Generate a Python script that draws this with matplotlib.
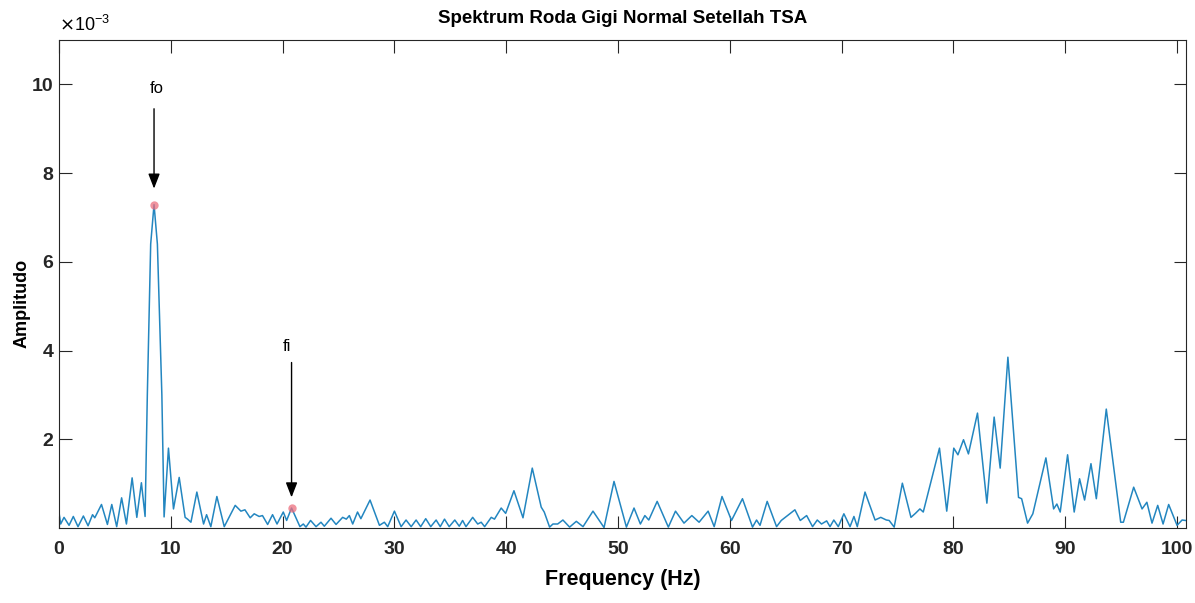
import matplotlib
matplotlib.use("Agg")
import matplotlib.pyplot as plt

# ---------- Data (amplitudes in units of 1e-3) ----------
freq_hz = [
    # 0 - 20 Hz
    0.0, 0.15, 0.45, 0.9, 1.28, 1.7, 2.18, 2.6, 3.0, 3.2, 3.8, 4.33, 4.72, 5.16,
    5.6, 6.03, 6.54, 6.96, 7.37, 7.7, 7.9, 8.2, 8.5, 8.8, 9.2, 9.4, 9.79, 10.24,
    10.75, 11.28, 11.5, 11.8, 12.33, 12.93, 13.2, 13.58, 14.12, 14.78, 15.76,
    16.27, 16.63, 17.1, 17.46, 17.9, 18.2, 18.66, 19.1, 19.5, 20.06, 20.36,
    # 20 - 40 Hz
    20.8, 21.55, 21.85, 22.09, 22.5, 22.99, 23.43, 23.73, 24.33, 24.78, 25.37,
    25.7, 25.97, 26.27, 26.7, 27.0, 27.82, 28.66, 29.1, 29.4, 30.0, 30.6, 31.04,
    31.5, 31.94, 32.35, 32.8, 33.25, 33.73, 34.1, 34.48, 34.9, 35.4, 35.8, 36.1,
    36.4, 37.0, 37.45, 37.76, 38.07, 38.66, 38.95, 39.55, 39.95,
    # 40 - 60 Hz
    40.69, 41.5, 42.33, 43.13, 43.4, 43.88, 44.18, 44.6, 45.07, 45.67, 46.27,
    46.87, 47.76, 48.75, 49.64, 50.75, 51.43, 52.0, 52.4, 52.75, 53.5, 54.5,
    55.14, 55.9, 56.6, 57.25, 58.06, 58.6, 59.3, 60.15,
    # 60 - 80 Hz
    61.13, 62.03, 62.39, 62.7, 63.34, 64.18, 64.6, 65.82, 66.3, 66.87, 67.4,
    67.82, 68.2, 68.66, 68.96, 69.3, 69.7, 70.2, 70.75, 71.1, 71.4, 72.09, 72.99,
    73.5, 74.0, 74.25, 74.7, 75.43, 76.2, 76.6, 77.0, 77.3, 78.75, 79.4, 80.03,
    # 80 - 100 Hz
    80.4, 80.9, 81.34, 82.15, 82.99, 83.64, 84.18, 84.87, 85.82, 86.1, 86.63,
    87.1, 88.27, 88.96, 89.25, 89.55, 90.21, 90.8, 91.28, 91.73, 92.3, 92.78,
    93.67, 94.96, 95.2, 96.12, 96.87, 97.3, 97.76, 98.27, 98.75, 99.25, 100.0,
    100.45, 100.75,
]

amp_e3 = [
    # 0 - 20 Hz
    0.35, 0.09, 0.24, 0.06, 0.26, 0.03, 0.27, 0.05, 0.30, 0.23, 0.53, 0.08, 0.53, 0.03,
    0.68, 0.09, 1.13, 0.24, 1.02, 0.26, 3.0, 6.4, 7.29, 6.4, 3.0, 0.25, 1.80, 0.43,
    1.14, 0.24, 0.20, 0.13, 0.81, 0.09, 0.30, 0.03, 0.71, 0.03, 0.51,
    0.38, 0.41, 0.23, 0.32, 0.26, 0.28, 0.08, 0.30, 0.09, 0.36, 0.17,
    # 20 - 40 Hz
    0.45, 0.03, 0.09, 0.02, 0.17, 0.03, 0.13, 0.04, 0.22, 0.08, 0.24,
    0.20, 0.28, 0.09, 0.36, 0.21, 0.63, 0.06, 0.13, 0.03, 0.38, 0.03, 0.18,
    0.03, 0.18, 0.03, 0.21, 0.03, 0.18, 0.03, 0.20, 0.03, 0.18, 0.04, 0.17,
    0.03, 0.24, 0.09, 0.13, 0.03, 0.24, 0.20, 0.45, 0.33,
    # 40 - 60 Hz
    0.84, 0.23, 1.35, 0.47, 0.36, 0.02, 0.09, 0.09, 0.18, 0.02, 0.15,
    0.03, 0.38, 0.01, 1.05, 0.02, 0.45, 0.09, 0.28, 0.18, 0.60, 0.02,
    0.38, 0.11, 0.28, 0.13, 0.38, 0.03, 0.71, 0.17,
    # 60 - 80 Hz
    0.66, 0.02, 0.18, 0.06, 0.60, 0.03, 0.17, 0.41, 0.17, 0.28, 0.03,
    0.18, 0.09, 0.16, 0.03, 0.18, 0.03, 0.32, 0.03, 0.26, 0.03, 0.81, 0.18,
    0.24, 0.18, 0.17, 0.02, 1.01, 0.24, 0.33, 0.43, 0.36, 1.80, 0.38, 1.80,
    # 80 - 100 Hz
    1.65, 1.99, 1.67, 2.59, 0.56, 2.50, 1.35, 3.85, 0.69, 0.66, 0.11,
    0.32, 1.58, 0.43, 0.54, 0.36, 1.65, 0.36, 1.11, 0.63, 1.45, 0.66,
    2.68, 0.13, 0.13, 0.92, 0.43, 0.58, 0.11, 0.51, 0.09, 0.53, 0.06,
    0.18, 0.17,
]

peak_labels = ["fo", "fi"]
peak_freq = [8.5, 20.8]
peak_amp_e3 = [7.29, 0.45]

title = "Spektrum Roda Gigi Normal Setellah TSA"
x_ticks = [0, 10, 20, 30, 40, 50, 60, 70, 80, 90, 100]
y_ticks_e3 = [2, 4, 6, 8, 10]

plt.rcParams["font.family"] = ["Liberation Sans", "DejaVu Sans"]

amp = [v * 1e-3 for v in amp_e3]
pk_amp = [v * 1e-3 for v in peak_amp_e3]

# ---------- Plot ----------
fig = plt.figure(figsize=(11.95, 6.03), dpi=100)
ax = fig.add_axes([59 / 1195, 1 - 528 / 603, 1127 / 1195, 488 / 603])

ax.plot(freq_hz, amp, color="#2386c0", linewidth=1.1, solid_joinstyle="round")
ax.plot(peak_freq, pk_amp, "o", color="#ec6f7e", alpha=0.75,
        markersize=6, markeredgewidth=0)

# annotations: label above, arrow pointing down to the peak
label_y = [9.9e-3, 4.1e-3]
arrow_tail = [9.45e-3, 3.73e-3]
arrow_tip = [7.65e-3, 0.69e-3]
label_dx = [0.25, -0.45]
for lab, f, ly, yt, yh, dx in zip(peak_labels, peak_freq, label_y,
                                  arrow_tail, arrow_tip, label_dx):
    ax.text(f + dx, ly, lab, ha="center", va="center", fontsize=12)
    ax.annotate("", xy=(f, yh), xytext=(f, yt),
                arrowprops=dict(arrowstyle="-|>,head_length=0.9,head_width=0.35",
                                color="black", lw=1.0, shrinkA=0, shrinkB=0))

ax.set_xlim(0, 100.8)
ax.set_ylim(0, 11e-3)
ax.set_xticks(x_ticks)
ax.set_xticklabels([str(t) for t in x_ticks])
ax.set_yticks([t * 1e-3 for t in y_ticks_e3])
ax.set_yticklabels([str(t) for t in y_ticks_e3])

ax.tick_params(direction="in", top=True, right=True, length=9, width=0.8,
               labelsize=14, colors="#262626")
ax.tick_params(axis="x", pad=9)
ax.tick_params(axis="y", pad=4)
for lbl in ax.get_xticklabels() + ax.get_yticklabels():
    lbl.set_fontweight("bold")
for sp in ax.spines.values():
    sp.set_color("#262626")
    sp.set_linewidth(0.8)

ax.set_xlabel("Frequency (Hz)", fontsize=15.5, fontweight="bold", labelpad=8)
ax.set_ylabel("Amplitudo", fontsize=13, fontweight="bold", va="center")
ax.yaxis.set_label_coords(-0.033, 0.46)
ax.set_title(title, fontsize=13.5, fontweight="bold", pad=12)
ax.text(0.0, 1.01, r"$\times$10$^{\mathregular{-3}}$", transform=ax.transAxes,
        ha="left", va="bottom", fontsize=13)

fig.savefig("out.png", dpi=100)
